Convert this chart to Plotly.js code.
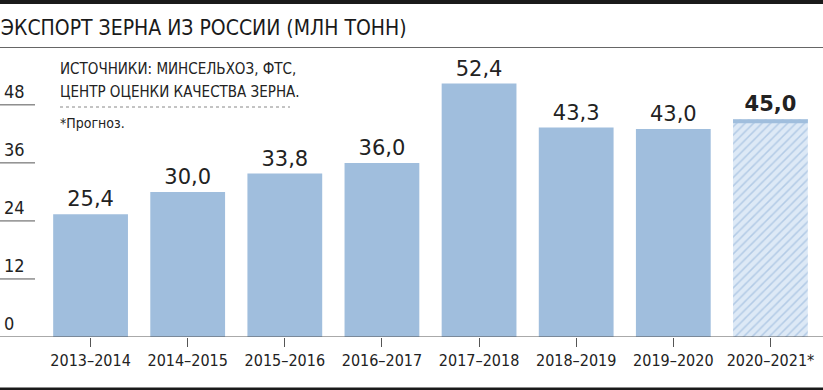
<!DOCTYPE html>
<html><head><meta charset="utf-8">
<script src="https://cdn.plot.ly/plotly-3.0.1.min.js"></script>
<style>html,body{margin:0;padding:0;background:#fff}#c{width:823px;height:390px}</style>
</head><body><div id="c"></div>
<script>
const categories = ["2013–2014","2014–2015","2015–2016","2016–2017","2017–2018","2018–2019","2019–2020","2020–2021*"];
const actualValues = [25.4, 30.0, 33.8, 36.0, 52.4, 43.3, 43.0];
const forecastCategory = ["2020–2021*"];
const forecastValue = [45.0];
const yTicks = [0, 12, 24, 36, 48];

const NARROW = '"Liberation Sans Narrow", "DejaVu Sans Condensed", "Roboto", sans-serif';
const VAL = '"DejaVu Sans", "Liberation Sans", Arial, sans-serif';
const fmt = v => v.toFixed(1).replace('.', ',');
const bandThickness = 0.8;

const L = 42, R = 4, T = 71, B = 53, W = 823, H = 390;
const pw = W - L - R, ph = H - T - B;
const px2x = p => (p - L) / pw;
const py2y = p => (H - B - p) / ph;

const traces = [
  {type:'bar', x: categories.slice(0, actualValues.length), y: actualValues,
   text: actualValues.map(fmt), textposition:'outside', cliponaxis:false,
   textfont:{family:VAL, size:21, color:'#222'},
   marker:{color:'#a0bedd', line:{width:0}}, hoverinfo:'x+y'},
  {type:'bar', x: forecastCategory, y: forecastValue,
   marker:{color:'#dde9f6', line:{width:0},
     pattern:{shape:'/', fgcolor:'#b3cbe6', bgcolor:'#dde9f6', size:6, solidity:0.25}},
   hoverinfo:'x+y'},
  {type:'bar', x: forecastCategory, y: forecastValue.map(()=>bandThickness),
   base: forecastValue.map(v => v - bandThickness),
   text: forecastValue.map(fmt), textposition:'outside', cliponaxis:false,
   textfont:{family:VAL, size:21, color:'#222', weight:'bold'},
   marker:{color:'#a0bedd', line:{width:0}}, hoverinfo:'skip'}
];

const shapes = [
  {type:'rect', xref:'paper', yref:'paper', x0:px2x(0), x1:px2x(W), y0:py2y(0), y1:py2y(4), fillcolor:'#1a1a1a', line:{width:0}},
  {type:'line', xref:'paper', yref:'paper', x0:px2x(0), x1:px2x(W), y0:py2y(47.5), y1:py2y(47.5), line:{color:'#666', width:1}},
  {type:'rect', xref:'paper', yref:'paper', x0:px2x(0), x1:px2x(W), y0:py2y(387.5), y1:py2y(391), fillcolor:'#1a1a1a', line:{width:0}},
  {type:'line', xref:'paper', yref:'paper', x0:px2x(60), x1:px2x(290), y0:py2y(107), y1:py2y(107), line:{color:'#888', width:1, dash:'dot'}},
  {type:'line', xref:'paper', yref:'y', x0:px2x(0), x1:px2x(W), y0:0, y1:0, line:{color:'#555', width:1}}
];
yTicks.forEach(t => {
  if (t !== 0) shapes.push({type:'line', xref:'paper', yref:'y', x0:px2x(0), x1:px2x(35), y0:t, y1:t, line:{color:'#555', width:1}});
});

const annotations = yTicks.map(t => ({
  xref:'paper', yref:'y', x:px2x(2), y:t, xanchor:'left', yanchor:'bottom', yshift:1,
  text:String(t), showarrow:false, font:{family:NARROW, size:18, color:'#222'}
}));
annotations.push(
  {xref:'paper', yref:'paper', x:px2x(58), y:py2y(69), xanchor:'left', yanchor:'middle', showarrow:false,
   text:'ИСТОЧНИКИ: МИНСЕЛЬХОЗ, ФТС,', font:{family:NARROW, size:15, color:'#222'}},
  {xref:'paper', yref:'paper', x:px2x(58), y:py2y(92), xanchor:'left', yanchor:'middle', showarrow:false,
   text:'ЦЕНТР ОЦЕНКИ КАЧЕСТВА ЗЕРНА.', font:{family:NARROW, size:15, color:'#222'}},
  {xref:'paper', yref:'paper', x:px2x(58), y:py2y(123), xanchor:'left', yanchor:'middle', showarrow:false,
   text:'*Прогноз.', font:{family:NARROW, size:14, color:'#222'}}
);

const layout = {
  width:W, height:H, margin:{l:L, r:R, t:T, b:B, pad:0},
  paper_bgcolor:'#fff', plot_bgcolor:'#fff', showlegend:false,
  barmode:'overlay', bargap:0.23, separators:', ',
  title:{text:'ЭКСПОРТ ЗЕРНА ИЗ РОССИИ (МЛН ТОНН)', xref:'container', yref:'container',
    x:0.001, xanchor:'left', y:1-28/H, yanchor:'middle', font:{family:NARROW, size:21, color:'#1a1a1a'}},
  xaxis:{type:'category', range:[-0.5, 7.5], showline:false, showgrid:false, zeroline:false,
    ticks:'outside', ticklen:9, tickcolor:'#555', tickwidth:1,
    tickfont:{family:NARROW, size:16, color:'#222'}, fixedrange:true},
  yaxis:{range:[0, 55], showticklabels:false, showgrid:false, zeroline:false, showline:false, ticks:'', fixedrange:true},
  shapes, annotations
};
Plotly.newPlot('c', traces, layout, {displayModeBar:false, staticPlot:true});
</script></body></html>
